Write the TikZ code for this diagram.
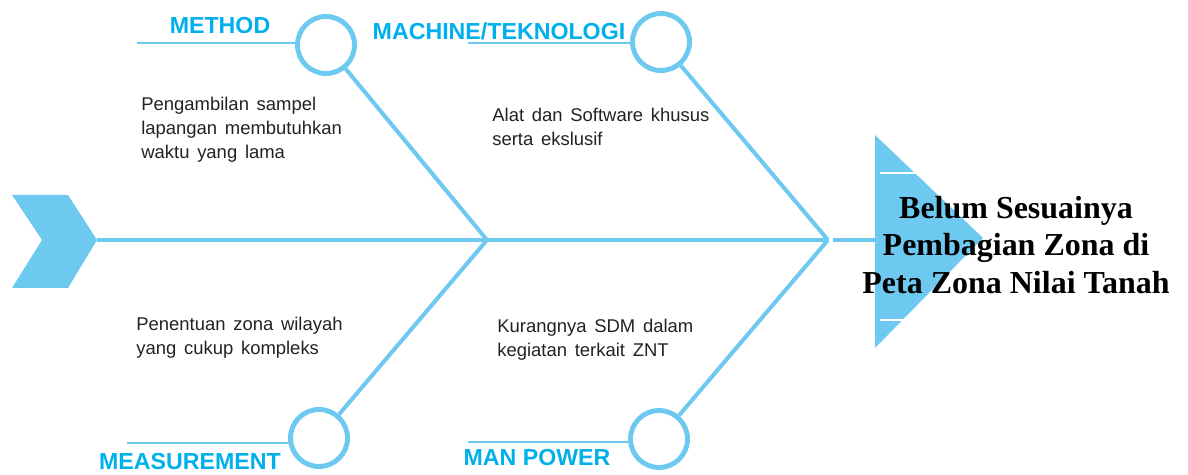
\documentclass[tikz,border=0pt]{standalone}
\usepackage{fontspec}
\setmainfont{Liberation Sans}
\newfontfamily\headfont{Liberation Serif}
\usetikzlibrary{positioning,calc}
\definecolor{boneblue}{RGB}{110,201,240}
\definecolor{labelblue}{RGB}{0,176,236}
\definecolor{causegray}{RGB}{34,34,34}
\newcommand\causefont{\fontsize{10.5}{13.6}\selectfont\spaceskip=0.42em plus 0.1em\relax}
\tikzset{
  x=0.02cm, y=0.02cm,
  spine/.style    = {draw=boneblue, line width=2.3pt},
  bone/.style     = {draw=boneblue, line width=2.3pt},
  ring/.style     = {draw=boneblue, circle, line width=2.8pt, minimum size=1.14cm, inner sep=0pt},
  tick/.style     = {draw=boneblue, line width=0.8pt},
  category/.style = {text=labelblue, font=\fontsize{13.2}{15}\selectfont\bfseries, inner sep=0pt},
  cause/.style    = {text=causegray, font=\causefont, align=left, anchor=north west, inner sep=0pt},
  effect/.style   = {font=\headfont\fontsize{18.2}{21.5}\selectfont\bfseries, align=center, inner sep=0pt}
}
\begin{document}
\begin{tikzpicture}
  \useasboundingbox (0,0) rectangle (1188,474);

  % tail chevron and the spine
  \fill[boneblue] (12,279) -- (68,279) -- (97,234) -- (68,186) -- (12,186) -- (42,234) -- cycle;
  \coordinate (tail) at (97,234);
  \coordinate (j1) at (487,234);
  \coordinate (j2) at (828,234);
  \coordinate (s2) at (833,234);
  \coordinate (h) at (880,234);

  % fish head
  \fill[boneblue] (875,339) -- (983,236) -- (875,126) -- cycle;
  \draw[white, line width=1pt] (880,301) -- (917,301);
  \draw[white, line width=1pt] (880,154) -- (917,154);

  \draw[spine] (tail) -- (j2);
  \draw[spine] (s2) -- (h);

  % rings at the ends of the bones
  \node[ring] (m1) at (326,429) {};
  \node[ring] (m2) at (661,432) {};
  \node[ring] (m3) at (319,36) {};
  \node[ring] (m4) at (659,35) {};

  \draw[bone] (m1) -- (j1);
  \draw[bone] (m2) -- (j2);
  \draw[bone] (m3) -- (j1);
  \draw[bone] (m4) -- (j2);

  % underlines for the categories
  \coordinate (t1) at (137,431);
  \coordinate (t2) at (468,431);
  \coordinate (t3) at (127,31);
  \coordinate (t4) at (468,32);
  \draw[tick] (t1) -- (t1 -| m1.west);
  \draw[tick] (t2) -- (t2 -| m2.west);
  \draw[tick] (t3) -- ($(t3 -| m3.west)+(1,0)$);
  \draw[tick] (t4) -- ($(t4 -| m4.west)+(1,0)$);

  \node[category] (c1) at (220,448) {METHOD};
  \node[category] (c2) at (499,443) {MACHINE/TEKNOLOGI};
  \node[category] (c3) at (190,12) {MEASUREMENT};
  \node[category] (c4) at (537,16) {MAN POWER};

  \node[cause] (k1) at (141,377) {Pengambilan sampel\\lapangan membutuhkan\\waktu yang lama};
  \node[cause] (k2) at (492,366) {Alat dan Software khusus\\serta ekslusif};
  \node[cause] (k3) at (136,157) {Penentuan zona wilayah\\yang cukup kompleks};
  \node[cause] (k4) at (497,155) {Kurangnya SDM dalam\\kegiatan terkait ZNT};

  \node[effect] (e) at (1016,229) {Belum Sesuainya\\Pembagian Zona di\\Peta Zona Nilai Tanah};
\end{tikzpicture}
\end{document}
